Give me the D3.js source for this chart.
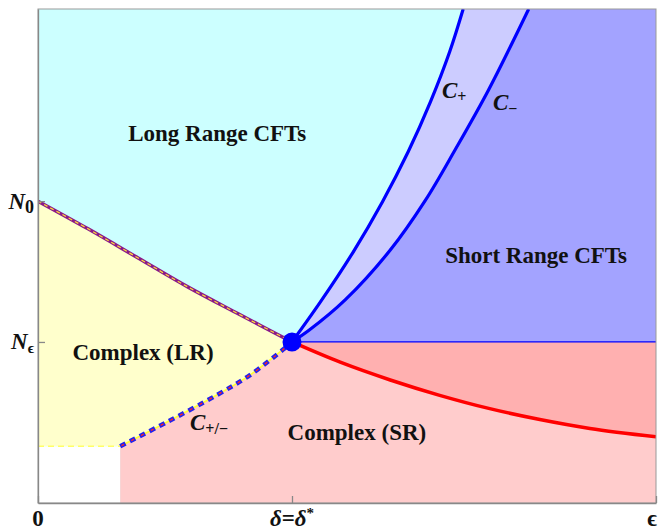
<!DOCTYPE html>
<html>
<head>
<meta charset="utf-8">
<script src="https://cdn.jsdelivr.net/npm/d3@7"></script>
<style>
body { margin: 0; background: #fff; }
text { font-family: "Liberation Serif", "Times New Roman", serif; font-weight: bold; fill: #111; }
</style>
</head>
<body>
<svg id="chart" width="658" height="531"></svg>
<script>
// values, axes normalised so that eps = 1 and the top of the frame = 1
var deltaStar = 0.411
var N0 = 0.611
var Neps = 0.326
var cutX = 0.133   // where the complex region stops on the left
var cutY = 0.115

var xTicks = [0, deltaStar, 1]
var yTicks = [N0, Neps]

var lrBoundary = [[0,0.611],[0.081,0.555],[0.162,0.496],[0.243,0.437],[0.324,0.383],[0.411,0.326]]
var cPlusMinus = [[0.133,0.115],[0.209,0.164],[0.290,0.219],[0.343,0.259],[0.396,0.310],[0.411,0.326]]
var cPlus = [[0.411,0.326],[0.457,0.407],[0.510,0.508],[0.557,0.609],[0.599,0.711],[0.635,0.812],[0.666,0.913],[0.688,1.0]]
var cMinus = [[0.411,0.326],[0.439,0.350],[0.497,0.411],[0.570,0.512],[0.627,0.613],[0.675,0.715],[0.729,0.836],[0.794,1.0]]
var redCurve = [[0.411,0.326],[0.489,0.285],[0.570,0.249],[0.650,0.218],[0.731,0.191],[0.812,0.169],[0.893,0.151],[1.0,0.134]]

var regionNames = ["Long Range CFTs", "Short Range CFTs", "Complex (LR)", "Complex (SR)"]
var regionSpots = [[0.290,0.733],[0.806,0.486],[0.170,0.289],[0.516,0.128]]

var margin = {left: 38, top: 9, right: 2, bottom: 28}
var W = 658, H = 531

var x = d3.scaleLinear().domain([0, 1]).range([margin.left, W - margin.right])
var y = d3.scaleLinear().domain([0, 1]).range([H - margin.bottom, margin.top])

var svg = d3.select('#chart')

svg.append('clipPath').attr('id', 'plotclip')
	.append('rect')
	.attr('x', x(0)).attr('y', y(1))
	.attr('width', x(1) - x(0)).attr('height', y(0) - y(1))

var line = d3.line()
	.x(function(d){ return x(d[0]) })
	.y(function(d){ return y(d[1]) })
	.curve(d3.curveCatmullRom.alpha(0.5))

function seg(pts) { return line(pts).replace(/^M/, 'L') }
function pt(a, b) { return 'L' + x(a) + ',' + y(b) }
function rev(pts) { return pts.slice().reverse() }

var plot = svg.append('g').attr('clip-path', 'url(#plotclip)')

// regions
plot.append('rect')
	.attr('x', x(0)).attr('y', y(1))
	.attr('width', x(1) - x(0)).attr('height', y(0) - y(1))
	.style('fill', '#ccffff')

plot.append('path')
	.attr('d', 'M' + x(0) + ',' + y(0) + pt(cutX, 0) + pt(cutX, cutY) + pt(0, cutY) + 'Z')
	.style('fill', '#fff')

plot.append('path')
	.attr('d', line(lrBoundary) + seg(rev(cPlusMinus)) + pt(0, cutY) + 'Z')
	.style('fill', '#ffffcc')

plot.append('path')
	.attr('d', line(cPlusMinus) + seg(redCurve) + pt(1, 0) + pt(cutX, 0) + 'Z')
	.style('fill', '#ffcccc')

plot.append('path')
	.attr('d', line(redCurve) + pt(1, Neps) + 'Z')
	.style('fill', '#ffb0b0')

plot.append('path')
	.attr('d', line(cPlus) + pt(1, 1) + pt(1, Neps) + 'Z')
	.style('fill', '#ccccff')

plot.append('path')
	.attr('d', line(cMinus) + pt(1, 1) + pt(1, Neps) + 'Z')
	.style('fill', '#a3a3ff')

// boundaries
plot.append('path')
	.attr('d', 'M' + x(0) + ',' + y(cutY) + pt(cutX, cutY))
	.style('fill', 'none').style('stroke', '#ffff66').style('stroke-width', 1.5)
	.style('stroke-dasharray', '6,4')

plot.append('path')
	.attr('d', 'M' + x(deltaStar) + ',' + y(Neps) + pt(1, Neps))
	.style('fill', 'none').style('stroke', '#0000ff').style('stroke-width', 1.2)

plot.append('path')
	.attr('d', line(lrBoundary))
	.style('fill', 'none').style('stroke', '#8a1a8a').style('stroke-width', 3.5)
plot.append('path')
	.attr('d', line(lrBoundary))
	.style('fill', 'none').style('stroke', '#ffdd33').style('stroke-width', 1.2)
	.style('stroke-dasharray', '4,3')

plot.append('path')
	.attr('d', line(cPlusMinus))
	.style('fill', 'none').style('stroke', '#ffff33').style('stroke-width', 1.6)
plot.append('path')
	.attr('d', line(cPlusMinus))
	.style('fill', 'none').style('stroke', '#2222ee').style('stroke-width', 4.5)
	.style('stroke-dasharray', '6,5')
plot.append('path')
	.attr('d', line(cPlusMinus))
	.style('fill', 'none').style('stroke', '#ff2222').style('stroke-width', 1.4)
	.style('stroke-dasharray', '3,8').style('stroke-dashoffset', -1.5)

plot.append('path')
	.attr('d', line(redCurve))
	.style('fill', 'none').style('stroke', '#ff0000').style('stroke-width', 3.5)

plot.append('path')
	.attr('d', line(cPlus))
	.style('fill', 'none').style('stroke', '#0000ff').style('stroke-width', 3.2)
plot.append('path')
	.attr('d', line(cMinus))
	.style('fill', 'none').style('stroke', '#0000ff').style('stroke-width', 3.2)

svg.append('circle')
	.attr('cx', x(deltaStar)).attr('cy', y(Neps)).attr('r', 9.5)
	.style('fill', '#0000ff')

// frame + ticks
svg.append('rect')
	.attr('x', x(0)).attr('y', y(1))
	.attr('width', x(1) - x(0)).attr('height', y(0) - y(1))
	.style('fill', 'none').style('stroke', '#999').style('stroke-width', 1)

var xAxis = d3.axisBottom(x).tickValues(xTicks).tickSizeInner(-7).tickSizeOuter(0).tickFormat('')
var yAxis = d3.axisLeft(y).tickValues(yTicks).tickSizeInner(-7).tickSizeOuter(0).tickFormat('')

svg.append('g').attr('transform', 'translate(0,' + y(0) + ')').call(xAxis)
	.call(function(g){ g.selectAll('line,path').style('stroke', '#888').style('stroke-width', 1.3) })
svg.append('g').attr('transform', 'translate(' + x(0) + ',0)').call(yAxis)
	.call(function(g){ g.selectAll('line,path').style('stroke', '#888').style('stroke-width', 1.3) })

// tick labels
var yLab = svg.append('g').style('font-size', '23px')
var subs = ['0', '\u03f5']
yTicks.forEach(function(v, i) {
	var t = yLab.append('text').attr('x', x(0) - 4).attr('y', y(v) + 7.5).attr('text-anchor', 'end')
	t.append('tspan').style('font-style', 'italic').text('N')
	t.append('tspan').attr('dy', 4).style('font-size', i == 0 ? '18px' : '15px').text(subs[i])
})

var xl = svg.append('g').style('font-size', '23px')
xl.append('text').attr('x', x(0)).attr('y', 526).attr('text-anchor', 'middle').text('0')
var dt = xl.append('text').attr('x', x(deltaStar)).attr('y', 526).attr('text-anchor', 'middle')
dt.append('tspan').style('font-style', 'italic').text('\u03b4')
dt.append('tspan').text('=')
dt.append('tspan').style('font-style', 'italic').text('\u03b4')
dt.append('tspan').attr('dy', -8).style('font-size', '15px').text('*')
xl.append('text').attr('x', W - 1).attr('y', 526).attr('text-anchor', 'end').text('\u03f5')

// region labels
svg.selectAll('.region')
	.data(regionNames)
	.enter().append('text')
	.attr('class', 'region')
	.attr('x', function(d, i){ return x(regionSpots[i][0]) })
	.attr('y', function(d, i){ return y(regionSpots[i][1]) })
	.attr('text-anchor', 'middle')
	.style('font-size', '23px')
	.text(function(d){ return d })

// curve labels
var curveNames = [['+', 442, 98], ['\u2212', 493, 110], ['+/\u2212', 190, 430]]
curveNames.forEach(function(c) {
	var t = svg.append('text').attr('x', c[1]).attr('y', c[2]).style('font-size', '23px')
	t.append('tspan').style('font-style', 'italic').text('C')
	t.append('tspan').attr('dy', 4).style('font-size', '16px').text(c[0])
})
</script>
</body>
</html>
